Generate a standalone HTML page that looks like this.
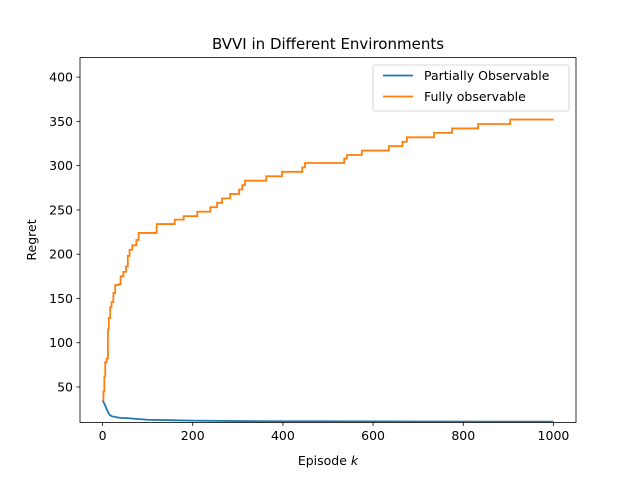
<!DOCTYPE html>
<html><head><meta charset="utf-8"><style>
body{margin:0;background:#fff}
text{font-family:"DejaVu Sans","Liberation Sans",sans-serif;fill:#000}
</style></head><body>
<svg id="chart" width="640" height="480" xmlns="http://www.w3.org/2000/svg">
<rect width="640" height="480" fill="#fff"/>
<text x="328" y="49" font-size="15" text-anchor="middle">BVVI in Different Environments</text>
<g id="plot"></g>
<rect x="80" y="57.6" width="496" height="364.8" fill="none" stroke="#000" stroke-width="0.8"/>
<g id="xt"></g><g id="yt"></g>
<text x="328" y="465" font-size="12.5" text-anchor="middle">Episode <tspan font-style="italic">k</tspan></text>
<text transform="translate(36,240) rotate(-90)" font-size="12.5" text-anchor="middle">Regret</text>
<g>
<rect x="373" y="65" width="196" height="46" rx="2" fill="#fff" fill-opacity="0.8" stroke="#ccc" stroke-width="0.8"/>
<line x1="383" y1="75.5" x2="413" y2="75.5" stroke="#1f77b4" stroke-width="1.8"/>
<text x="424" y="80" font-size="12.5">Partially Observable</text>
<line x1="383" y1="96.5" x2="413" y2="96.5" stroke="#ff7f0e" stroke-width="1.8"/>
<text x="424" y="101" font-size="12.5">Fully observable</text>
</g>
</svg>
<script>
const xTicks=[0,200,400,600,800,1000];
const yTicks=[50,100,150,200,250,300,350,400];
const partialEp=[0,5,10,15,20,30,40,50,75,100,150,200,300,400,500,700,1000];
const partialVal=[35,30,24,19,17,16,15,15,14,13,12.5,12,11.5,11.3,11.2,11,10.8];
const fullEp=[0,2,4,6,9,12,14,17,20,24,28,35,40,46,52,56,60,66,75,80,120,160,180,210,239,254,265,283,303,310,316,363,398,443,449,536,542,575,635,665,675,735,775,833,904,1000];
const fullVal=[35,45,62,78,82,115,128,140,146,156,165,166,175,180,186,198,205,210,216,224,234,239,243,248,253,258,263,268,273,278,283,288,293,298,303,308,312,317,322,327,332,337,342,347,352,352];
const X0=-50,X1=1050,Y0=10,Y1=422;
const sx=v=>80+(v-X0)/(X1-X0)*496;
const sy=v=>422.4-(v-Y0)/(Y1-Y0)*364.8;
const NS="http://www.w3.org/2000/svg";
const plot=document.getElementById('plot');
function stepPath(ep,val){let d=`M${sx(ep[0])},${sy(val[0])}`;for(let i=1;i<ep.length;i++){d+=`L${sx(ep[i])},${sy(val[i-1])}L${sx(ep[i])},${sy(val[i])}`;}return d;}
function linePath(ep,val){return ep.map((e,i)=>(i?'L':'M')+sx(e)+','+sy(val[i])).join('');}
const p1=document.createElementNS(NS,'path');
p1.setAttribute('d',linePath(partialEp,partialVal));p1.setAttribute('fill','none');p1.setAttribute('stroke','#1f77b4');p1.setAttribute('stroke-width','1.8');


plot.appendChild(p1);
const p2=document.createElementNS(NS,'path');
p2.setAttribute('d',stepPath(fullEp,fullVal));p2.setAttribute('fill','none');p2.setAttribute('stroke','#ff7f0e');p2.setAttribute('stroke-width','1.8');


plot.appendChild(p2);
const xt=document.getElementById('xt');
xTicks.forEach(t=>{const x=sx(t);
const l=document.createElementNS(NS,'line');l.setAttribute('x1',x);l.setAttribute('x2',x);l.setAttribute('y1',422.4);l.setAttribute('y2',425.9);l.setAttribute('stroke','#000');l.setAttribute('stroke-width','0.8');


xt.appendChild(l);
const tx=document.createElementNS(NS,'text');tx.setAttribute('x',x);tx.setAttribute('y',440);tx.setAttribute('font-size','12.5');tx.setAttribute('text-anchor','middle');tx.textContent=t;


xt.appendChild(tx);});
const yt=document.getElementById('yt');
yTicks.forEach(t=>{const y=sy(t);
const l=document.createElementNS(NS,'line');l.setAttribute('x1',76.5);l.setAttribute('x2',80);l.setAttribute('y1',y);l.setAttribute('y2',y);l.setAttribute('stroke','#000');l.setAttribute('stroke-width','0.8');


yt.appendChild(l);
const tx=document.createElementNS(NS,'text');tx.setAttribute('x',73);tx.setAttribute('y',y+4.5);tx.setAttribute('font-size','12.5');tx.setAttribute('text-anchor','end');tx.textContent=t;


yt.appendChild(tx);});
</script>
</body></html>
